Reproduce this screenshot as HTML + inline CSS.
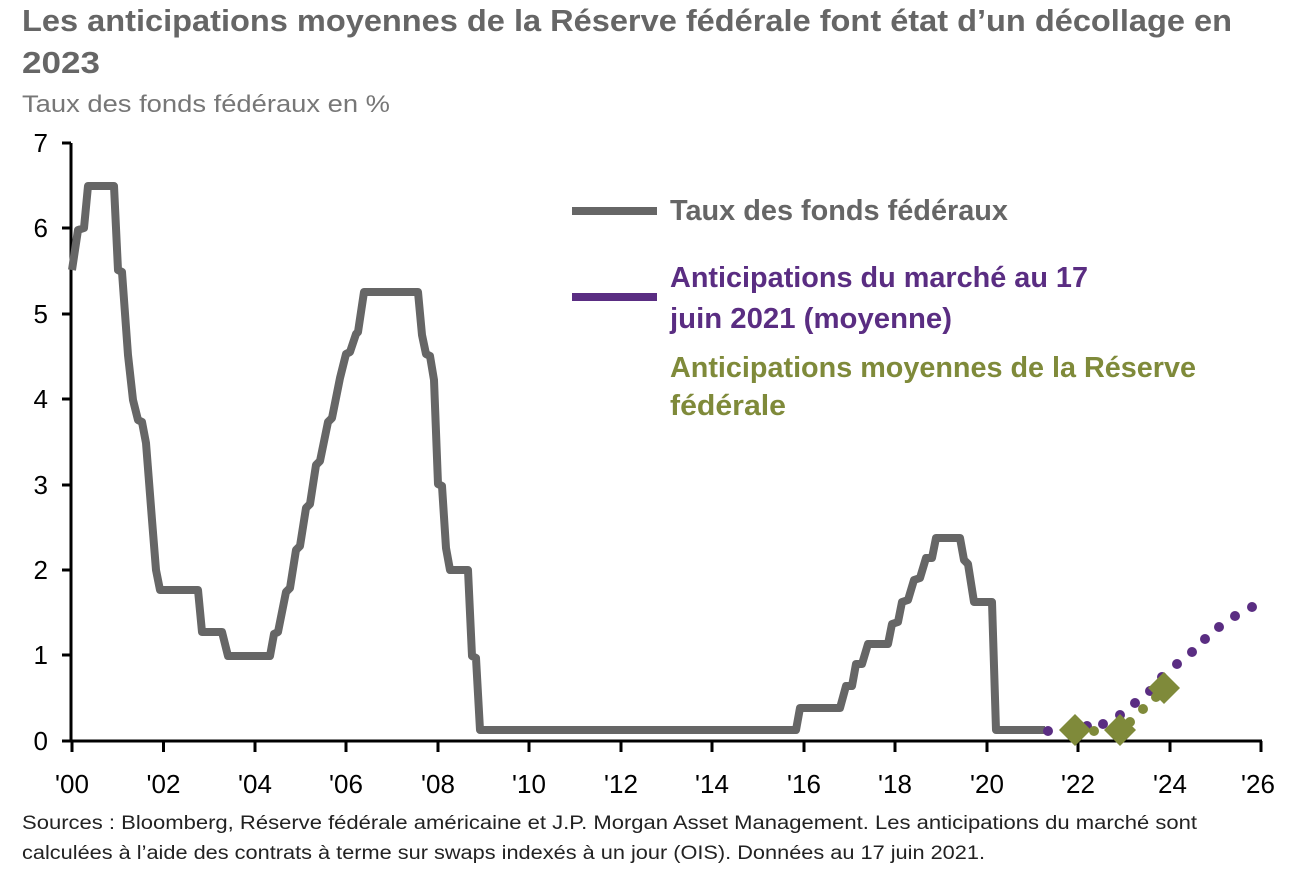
<!DOCTYPE html>
<html><head><meta charset="utf-8"><style>
html,body{margin:0;padding:0;background:#fff}
svg{display:block}
text{font-family:"Liberation Sans",sans-serif}
</style></head><body>
<svg width="1290" height="882" viewBox="0 0 1290 882">
<text x="22" y="31" font-size="31" font-weight="bold" fill="#666" textLength="1210" lengthAdjust="spacingAndGlyphs">Les anticipations moyennes de la Réserve fédérale font état d’un décollage en</text>
<text x="22" y="73" font-size="31" font-weight="bold" fill="#666" textLength="78" lengthAdjust="spacingAndGlyphs">2023</text>
<text x="22" y="112" font-size="24" fill="#777" textLength="368" lengthAdjust="spacingAndGlyphs">Taux des fonds fédéraux en %</text>

<g stroke="#000" stroke-width="3" fill="none">
<line x1="71" y1="143" x2="71" y2="742"/>
<line x1="70" y1="741" x2="1262" y2="741"/>
<path d="M62 143H71M62 228H71M62 314H71M62 399H71M62 485H71M62 570H71M62 655H71M62 741H71"/>
<path d="M72 741V752M163.5 741V752M255 741V752M346 741V752M438 741V752M529 741V752M621 741V752M712 741V752M804 741V752M895 741V752M987 741V752M1078 741V752M1170 741V752M1261 741V752"/>
</g>
<g font-size="26" fill="#000" text-anchor="end">
<text x="48" y="152">7</text><text x="48" y="237">6</text><text x="48" y="323">5</text><text x="48" y="408">4</text><text x="48" y="494">3</text><text x="48" y="579">2</text><text x="48" y="664">1</text><text x="48" y="750">0</text>
</g>
<g font-size="26" fill="#000" text-anchor="middle">
<text x="72" y="793">'00</text><text x="163.5" y="793">'02</text><text x="255" y="793">'04</text><text x="346" y="793">'06</text><text x="438" y="793">'08</text><text x="529" y="793">'10</text><text x="621" y="793">'12</text><text x="712" y="793">'14</text><text x="804" y="793">'16</text><text x="895" y="793">'18</text><text x="987" y="793">'20</text><text x="1078" y="793">'22</text><text x="1170" y="793">'24</text><text x="1258" y="793">'26</text>
</g>

<polyline fill="none" stroke="#666" stroke-width="8" stroke-linejoin="round" points="72,270 78,230 84,228 88,186 114,186 118,270 122,272 128,355 133,400 138,420 142,422 146,443 152,520 156,570 160,590 198,590 202,632 222,632 228,656 270,656 274,634 278,632 286,592 290,588 296,550 300,546 306,508 310,504 316,465 320,461 328,422 332,418 340,378 346,354 350,352 356,334 358,332 364,292 418,292 422,335 426,354 430,356 434,380 438,484 442,486 446,548 450,570 468,570 472,656 476,658 480,730 796,730 800,708 840,708 846,686 852,686 856,664 862,664 868,644 888,644 892,624 898,622 902,602 908,600 914,580 920,578 926,558 932,558 936,538 960,538 964,560 968,564 974,602 992,602 996,730 1045,730"/>

<g fill="#5a2d82">
<circle cx="1048" cy="731" r="5"/><circle cx="1087" cy="726" r="5"/><circle cx="1103" cy="724" r="5"/><circle cx="1120" cy="715" r="5"/><circle cx="1135" cy="703" r="5"/><circle cx="1150" cy="691" r="5"/><circle cx="1162" cy="677" r="5"/><circle cx="1177" cy="664" r="5"/><circle cx="1192" cy="652" r="5"/><circle cx="1205" cy="639" r="5"/><circle cx="1219" cy="627" r="5"/><circle cx="1235" cy="616" r="5"/><circle cx="1252" cy="607" r="5"/>
</g>
<g fill="#7f8a3a">
<circle cx="1094" cy="731" r="5"/><circle cx="1130" cy="722" r="5"/><circle cx="1143" cy="709" r="5"/><circle cx="1156" cy="697" r="5"/>
<polygon points="1075,714 1091,730 1075,746 1059,730"/>
<polygon points="1120,714 1136,730 1120,746 1104,730"/>
<polygon points="1164,672 1180,688 1164,704 1148,688"/>
</g>

<line x1="572" y1="211" x2="657" y2="211" stroke="#666" stroke-width="8"/>
<line x1="572" y1="297" x2="657" y2="297" stroke="#5a2d82" stroke-width="8"/>
<g font-size="29" font-weight="bold">
<text x="670" y="220" fill="#666" textLength="338" lengthAdjust="spacingAndGlyphs">Taux des fonds fédéraux</text>
<text x="670" y="287" fill="#5a2d82" textLength="418" lengthAdjust="spacingAndGlyphs">Anticipations du marché au 17</text>
<text x="670" y="328" fill="#5a2d82" textLength="282" lengthAdjust="spacingAndGlyphs">juin 2021 (moyenne)</text>
<text x="670" y="377" fill="#7f8a3a" textLength="526" lengthAdjust="spacingAndGlyphs">Anticipations moyennes de la Réserve</text>
<text x="670" y="415" fill="#7f8a3a" textLength="116" lengthAdjust="spacingAndGlyphs">fédérale</text>
</g>

<g font-size="19" fill="#222">
<text x="22" y="829" textLength="1175" lengthAdjust="spacingAndGlyphs">Sources : Bloomberg, Réserve fédérale américaine et J.P. Morgan Asset Management. Les anticipations du marché sont</text>
<text x="22" y="859" textLength="963" lengthAdjust="spacingAndGlyphs">calculées à l’aide des contrats à terme sur swaps indexés à un jour (OIS). Données au 17 juin 2021.</text>
</g>
</svg>
</body></html>
